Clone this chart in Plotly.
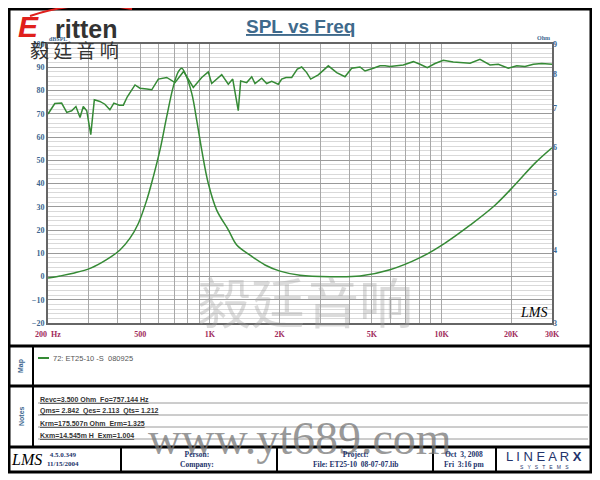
import math
import plotly.graph_objects as go

# ---------------- data ----------------
spl_freq = [200, 214, 229, 241, 253, 264, 275, 284, 294, 306, 317, 335, 352, 370, 385, 406, 423, 440, 475, 499,
            534, 561, 599, 651, 707, 770, 848, 922, 984, 1018, 1125, 1201, 1255, 1326, 1358, 1442, 1516, 1566, 1674, 1759,
            1849, 1974, 2042, 2131, 2256, 2385, 2491, 2618, 2724, 2938, 3246, 3528, 3831, 4095, 4448, 4675, 5076, 5427, 5703, 5993,
            6840, 7560, 8077, 8684, 9376, 10180, 11240, 13280, 14660, 16200, 17590, 19430, 21130, 22940, 24920, 27090, 30000]
spl_db = [69.9, 74.4, 74.6, 70.6, 71.3, 73.1, 68.4, 73.1, 71.3, 61.0, 76.0, 75.3, 74.1, 71.7, 74.6, 73.7, 73.7, 77.3, 82.4, 81.0,
          80.6, 80.3, 84.9, 85.6, 83.4, 88.2, 81.3, 85.6, 88.0, 83.0, 86.8, 82.7, 84.9, 71.3, 84.1, 83.4, 85.9, 83.0, 85.3, 83.0,
          83.9, 82.7, 84.9, 85.6, 85.6, 89.2, 90.1, 87.7, 84.9, 86.7, 90.6, 87.7, 85.9, 89.6, 90.1, 88.4, 89.6, 90.6, 90.6, 90.3,
          91.0, 92.4, 91.3, 89.8, 91.6, 93.0, 92.3, 91.7, 93.4, 91.0, 91.3, 89.6, 90.6, 90.3, 91.3, 91.6, 91.3]

imp_freq = [200, 225, 257, 304, 358, 409, 452, 491, 534, 570, 609, 651, 695, 731, 756, 781, 835, 877, 922, 984,
            1070, 1201, 1306, 1490, 1730, 2008, 2450, 3300, 4450, 5990, 8080, 10360, 13280, 17020, 20770, 25340, 30000]
imp_ohm = [3.58, 3.61, 3.65, 3.72, 3.85, 4.00, 4.19, 4.44, 4.87, 5.34, 5.93, 6.76, 7.61, 8.07, 8.18, 8.02, 7.41, 6.67, 5.93, 5.20,
           4.68, 4.33, 4.08, 3.92, 3.77, 3.68, 3.62, 3.60, 3.61, 3.70, 3.88, 4.11, 4.41, 4.77, 5.17, 5.63, 5.98]

x_grid_vals = [200, 300, 400, 500, 600, 700, 800, 900, 1000, 2000, 3000, 4000, 5000, 6000, 7000, 8000, 9000,
               10000, 20000, 30000]
x_grid_text = ["200  Hz", "", "", "500", "", "", "", "", "1K", "2K", "", "", "5K", "", "", "", "",
               "10K", "20K", "30K"]
spl_ticks = [100, 90, 80, 70, 60, 50, 40, 30, 20, 10, 0, -10, -20]
ohm_ticks = [3, 4, 5, 6, 7, 8, 9]

legend_label = "72: ET25-10 -S  080925"
notes_lines = ["Revc=3.500 Ohm  Fo=757.144 Hz",
               "Qms= 2.842  Qes= 2.113  Qts= 1.212",
               "Krm=175.507n Ohm  Erm=1.325",
               "Kxm=14.545m H  Exm=1.004"]

# ---------------- geometry helpers (screen pixels; page body adds an 8px offset) ----------------
OFF = 8
W, H = 600 - OFF, 480 - OFF
L, R, T, B = 48, 552, 44, 323   # plot area in screen pixels


def fx(px):
    return (px - L) / (R - L)


def fy(py):
    return (B - py) / (B - T)


GREEN = "#358a35"
BLUE = "#3d6790"
MAROON = "#a02a5a"
NAVY = "#23336b"

fig = go.Figure()
fig.add_trace(go.Scatter(x=spl_freq, y=spl_db, mode="lines", line=dict(color=GREEN, width=1.5),
                         showlegend=False, hoverinfo="skip"))
fig.add_trace(go.Scatter(x=imp_freq, y=imp_ohm, mode="lines", yaxis="y2", line=dict(color=GREEN, width=1.5, shape="spline"),
                         showlegend=False, hoverinfo="skip"))

tickfont_y = dict(family="Liberation Serif", size=8, color=BLUE, weight="bold")
fig.update_layout(
    width=W, height=H, paper_bgcolor="white", plot_bgcolor="white",
    margin=dict(l=L - OFF, r=W - (R - OFF), t=T - OFF, b=H - (B - OFF)),
    xaxis=dict(type="log", range=[math.log10(200), math.log10(30000)], tickvals=x_grid_vals, ticktext=x_grid_text,
               tickfont=dict(family="Liberation Serif", size=8, color=MAROON, weight="bold"),
               showgrid=True, gridcolor="#a8a8a8", gridwidth=1, ticks="", showline=True, linecolor="#666",
               linewidth=2, mirror=True, zeroline=False, ticklabelstandoff=2),
    yaxis=dict(range=[-20, 100], tickvals=spl_ticks, tickfont=tickfont_y, showgrid=True, gridcolor="#9a9a9a",
               gridwidth=1, minor=dict(dtick=2, showgrid=True, gridcolor="#d9d9d9", gridwidth=1),
               ticks="", showline=True, linecolor="#666", linewidth=2, mirror=True, zeroline=False),
    yaxis2=dict(type="log", range=[math.log10(3), math.log10(9)], tickvals=ohm_ticks, overlaying="y", side="right",
                tickfont=tickfont_y, showgrid=False, ticks="", zeroline=False, showline=False),
)

shapes = []
line_k = dict(color="black", width=3)
shapes.append(dict(type="rect", xref="paper", yref="paper", x0=fx(9), x1=fx(591), y0=fy(9), y1=fy(472), line=line_k))
for yy in [346, 386, 447]:
    shapes.append(dict(type="line", xref="paper", yref="paper", x0=fx(9), x1=fx(591), y0=fy(yy), y1=fy(yy), line=line_k))
shapes.append(dict(type="line", xref="paper", yref="paper", x0=fx(33), x1=fx(33), y0=fy(346), y1=fy(447),
                   line=dict(color="black", width=2)))
for xx in [121, 277, 433, 496]:
    shapes.append(dict(type="line", xref="paper", yref="paper", x0=fx(xx), x1=fx(xx), y0=fy(447), y1=fy(472),
                       line=dict(color="black", width=2)))
shapes.append(dict(type="line", xref="paper", yref="paper", x0=fx(38), x1=fx(49), y0=fy(358), y1=fy(358),
                   line=dict(color=GREEN, width=2)))
for yy in [403, 415, 427, 439]:
    shapes.append(dict(type="line", xref="paper", yref="paper", x0=fx(38), x1=fx(588), y0=fy(yy), y1=fy(yy),
                       line=dict(color="#9a9a9a", width=1)))
p = "M {:.4f},{:.4f} Q {:.4f},{:.4f} {:.4f},{:.4f}".format(fx(30), fy(16), fx(80), fy(-1), fx(132), fy(9))
shapes.append(dict(type="path", xref="paper", yref="paper", path=p, line=dict(color="#e0201c", width=2)))
fig.update_layout(shapes=shapes)

ann = []


def text(x, y, s, size=8, color="black", family="Liberation Sans", xanchor="center", yanchor="middle", **kw):
    ann.append(dict(x=fx(x), y=fy(y), xref="paper", yref="paper", text=s, showarrow=False,
                    font=dict(size=size, color=color, family=family, weight=kw.pop("weight", "normal")),
                    xanchor=xanchor, yanchor=yanchor, **kw))


text(300, 27, "<u>SPL vs Freq</u>", size=19, color="#3f6a8c", weight="bold")
text(58, 39, "dBSPL", size=6, color=BLUE, family="Liberation Serif", weight="bold")
text(543, 38, "Ohm", size=6, color=BLUE, family="Liberation Serif", weight="bold")
# logo
text(28, 26, "<i>E</i>", size=30, color="#e0201c", family="Liberation Sans", weight="bold")
text(86, 29, "ritten", size=25, color="#333333", family="Liberation Sans", weight="bold")
text(74, 50, "毅 廷 音 响", size=19, color="#333333", family="Noto Sans CJK SC")
# LMS marks
text(533, 312, "<i>LMS</i>", size=14, color="black", family="Liberation Serif")
text(26, 459, "<i>LMS</i>", size=16, color="black", family="Liberation Serif")
# watermark
text(305, 300, "毅廷音响", size=54, color="rgba(160,160,160,0.38)", family="Noto Sans CJK SC")
# map & notes
text(21, 366, "Map", size=7, color=BLUE, weight="bold", textangle=-90)
text(21, 416, "Notes", size=7, color=BLUE, weight="bold", textangle=-90)
text(51, 358, legend_label, size=7.5, color="#555555", xanchor="left")
for i, s in enumerate(notes_lines):
    text(38, 399 + 12 * i, "<u>" + s + "</u>", size=7, color="#333333", xanchor="left", weight="bold")
text(300, 438, "www.yt689.com", size=46, color="rgba(120,120,120,0.75)", family="Liberation Serif")
# footer
text(63, 459, "4.5.0.349<br>11/15/2004", size=7, color=NAVY, family="Liberation Serif", weight="bold")
text(197, 459, "Person:<br>Company:", size=7.5, color=NAVY, family="Liberation Serif", weight="bold")
text(355, 459, "Project:<br>File: ET25-10  08-07-07.lib", size=7.5, color=NAVY, family="Liberation Serif", weight="bold")
text(464, 459, "Oct  3, 2008<br>Fri  3:16 pm", size=7.5, color=NAVY, family="Liberation Serif", weight="bold")
text(544, 456, "L I N E A R <b>X</b>", size=13, color=NAVY, family="Liberation Sans")
text(544, 467, "S   Y   S   T   E   M   S", size=5, color=NAVY, family="Liberation Sans")

fig.update_layout(annotations=ann)
fig.write_html("out.html")
